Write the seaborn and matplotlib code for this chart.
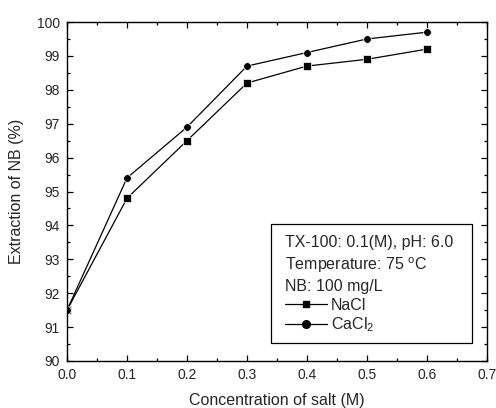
import matplotlib
matplotlib.use("Agg")
import matplotlib.pyplot as plt
import seaborn as sns
import pandas as pd
from matplotlib.ticker import MultipleLocator
from matplotlib.lines import Line2D
from matplotlib.patches import Rectangle

conc = [0.0, 0.1, 0.2, 0.3, 0.4, 0.5, 0.6]
nacl = [91.5, 94.8, 96.5, 98.2, 98.7, 98.9, 99.2]
cacl2 = [91.5, 95.4, 96.9, 98.7, 99.1, 99.5, 99.7]
series_names = ["NaCl", "CaCl$_\\mathregular{2}$"]
info_lines = ["TX-100: 0.1(M), pH: 6.0",
              "Temperature: 75 $^\\mathregular{o}$C",
              "NB: 100 mg/L"]

sns.set_theme(style="ticks")
plt.rcParams['font.family'] = ['Liberation Sans', 'DejaVu Sans']
plt.rcParams['mathtext.fontset'] = 'custom'
plt.rcParams['mathtext.rm'] = 'Liberation Sans'

df = pd.DataFrame({
    "conc": conc * 2,
    "val": nacl + cacl2,
    "salt": [series_names[0]] * len(conc) + [series_names[1]] * len(conc),
})

fig = plt.figure(figsize=(4.96, 4.08), dpi=100)
ax = fig.add_axes([67/496, 1 - 361/408, (487-67)/496, (361-22)/408])

sns.lineplot(data=df, x="conc", y="val", hue="salt", style="salt",
             markers={series_names[0]: "s", series_names[1]: "o"},
             dashes=False, palette=["black", "black"], linewidth=0.9,
             markersize=5.5, markeredgewidth=0.5, ax=ax, legend=False)

ax.set_xlim(0, 0.7)
ax.set_ylim(90, 100)
ax.xaxis.set_major_locator(MultipleLocator(0.1))
ax.xaxis.set_minor_locator(MultipleLocator(0.05))
ax.yaxis.set_major_locator(MultipleLocator(1))
ax.yaxis.set_minor_locator(MultipleLocator(0.5))
ax.set_xticks(ax.get_xticks())
ax.set_xticklabels([f"{v:.1f}" for v in ax.get_xticks()])
ax.set_xlim(0, 0.7)
ax.tick_params(which="both", direction="in", top=True, right=True, labelsize=10, color="black", width=0.9)
ax.tick_params(which="major", length=4.5, pad=5)
ax.tick_params(which="minor", length=2.5)
for s in ax.spines.values():
    s.set_linewidth(1.0)
    s.set_color("black")
ax.set_xlabel("Concentration of salt (M)", fontsize=11.5, labelpad=8)
ax.set_ylabel("Extraction of NB (%)", fontsize=11.5, labelpad=9)

# annotation box
box = Rectangle((0.486, 0.053), 0.478, 0.351, transform=ax.transAxes,
                facecolor="white", edgecolor="black", linewidth=0.9, zorder=5)
ax.add_patch(box)
x_text = (285 - 67) / 420
y_px = [243, 265, 286]
for line, yp in zip(info_lines, y_px):
    ax.text(x_text, (361 - yp) / 339, line, transform=ax.transAxes,
            fontsize=11.5, ha="left", va="center", zorder=6)

handles = [Line2D([], [], color="black", marker="s", markersize=5, lw=0.9, label=series_names[0]),
           Line2D([], [], color="black", marker="o", markersize=5.5, lw=0.9, label=series_names[1])]
leg = ax.legend(handles=handles, loc="upper left",
                bbox_to_anchor=((285 - 67) / 420, (361 - 298) / 339),
                fontsize=11.5, frameon=False, borderpad=0, borderaxespad=0,
                handlelength=2.6, handletextpad=0.25, labelspacing=0.15)
leg.set_zorder(7)

fig.savefig("out.png", dpi=100)
